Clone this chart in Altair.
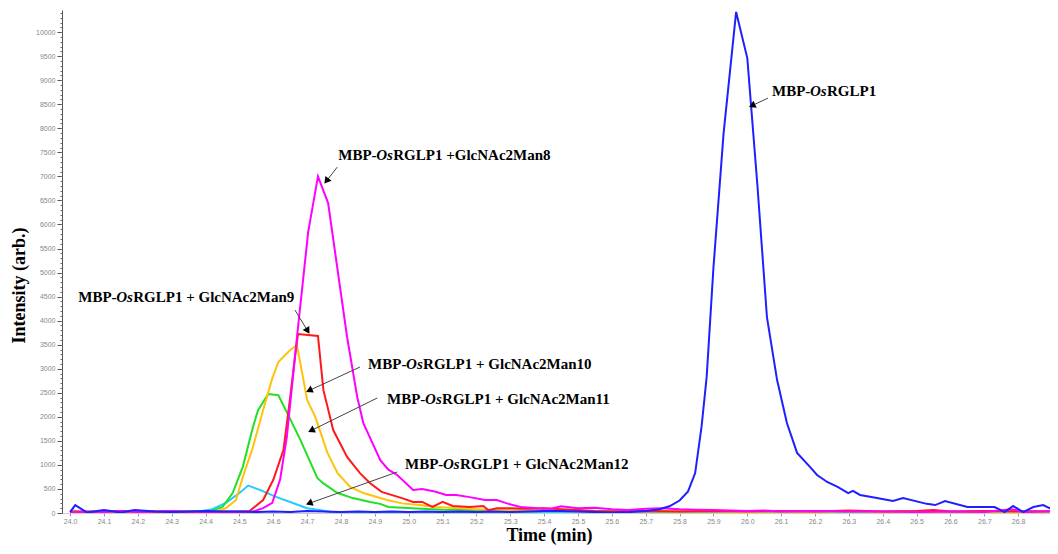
import altair as alt
import pandas as pd

# ---------------- data ----------------
series_names = [
    "MBP-OsRGLP1 + GlcNAc2Man12",
    "MBP-OsRGLP1 + GlcNAc2Man11",
    "MBP-OsRGLP1 + GlcNAc2Man10",
    "MBP-OsRGLP1 + GlcNAc2Man9",
    "MBP-OsRGLP1 + GlcNAc2Man8",
    "MBP-OsRGLP1",
]
series_colors = ["#22ccff", "#22e022", "#ffc20a", "#ff1a1a", "#ff00ff", "#1f1fff"]

cyan_t = [24.00, 24.05, 24.10, 24.15, 24.20, 24.25, 24.30, 24.35, 24.38, 24.42, 24.46, 24.50,
          24.526, 24.56, 24.61, 24.65, 24.70, 24.74, 24.77, 24.85, 24.95, 25.05, 25.15, 25.25,
          25.35, 25.45, 25.55, 25.65, 25.75, 25.85, 25.95, 26.05, 26.15, 26.25, 26.35, 26.45,
          26.55, 26.65, 26.75, 26.85, 26.92]
cyan_v = [10, 20, 10, 20, 10, 20, 10, 20, 30, 80, 210, 415,
          570, 480, 330, 230, 100, 60, 20, 20, 10, 20, 10, 20,
          10, 20, 30, 10, 20, 10, 20, 10, 20, 10, 20, 10,
          20, 10, 20, 10, 20]

green_t = [24.00, 24.05, 24.10, 24.15, 24.20, 24.25, 24.30, 24.35, 24.40, 24.42, 24.45, 24.48,
           24.51, 24.54, 24.555, 24.585, 24.615, 24.644, 24.68, 24.73, 24.747, 24.79, 24.835,
           24.886, 24.916, 24.94, 25.01, 25.10, 25.20, 25.30, 25.40, 25.50, 25.60, 25.70, 25.80,
           25.90, 26.00, 26.10, 26.20, 26.30, 26.40, 26.50, 26.60, 26.70, 26.80, 26.92]
green_v = [50, 30, 40, 30, 40, 30, 40, 30, 40, 50, 125, 415,
           960, 1790, 2140, 2475, 2450, 2040, 1520, 730, 620, 415, 310,
           230, 190, 125, 100, 70, 60, 50, 50, 40, 40, 40, 30,
           40, 30, 40, 30, 40, 30, 40, 30, 30, 40, 30]

yellow_t = [24.00, 24.05, 24.10, 24.15, 24.20, 24.25, 24.30, 24.35, 24.40, 24.43, 24.46, 24.49,
            24.51, 24.54, 24.57, 24.597, 24.615, 24.65, 24.67, 24.70, 24.724, 24.76, 24.79,
            24.827, 24.866, 24.886, 24.936, 24.98, 25.03, 25.08, 25.15, 25.20, 25.25, 25.30,
            25.40, 25.50, 25.60, 25.70, 25.80, 25.90, 26.00, 26.10, 26.20, 26.30, 26.40, 26.50,
            26.60, 26.70, 26.80, 26.92]
yellow_v = [40, 30, 20, 30, 20, 30, 20, 30, 20, 20, 100, 270,
            750, 1370, 2140, 2800, 3140, 3390, 3490, 2350, 2000, 1250, 830,
            540, 415, 375, 270, 200, 165, 125, 100, 80, 60, 50,
            40, 40, 30, 30, 30, 30, 20, 30, 20, 40, 20, 30,
            20, 30, 20, 30]

red_t = [24.00, 24.05, 24.10, 24.15, 24.20, 24.25, 24.30, 24.35, 24.40, 24.45, 24.50, 24.53,
         24.57, 24.60, 24.63, 24.65, 24.665, 24.673, 24.732, 24.748, 24.777, 24.818, 24.856,
         24.886, 24.92, 24.98, 25.013, 25.04, 25.07, 25.10, 25.13, 25.18, 25.22, 25.235, 25.26,
         25.30, 25.35, 25.40, 25.45, 25.50, 25.55, 25.60, 25.70, 25.80, 25.90, 26.00, 26.10,
         26.20, 26.30, 26.40, 26.50, 26.55, 26.60, 26.70, 26.80, 26.92]
red_v = [30, 20, 30, 40, 20, 30, 20, 30, 20, 30, 30, 40,
         270, 690, 1310, 2410, 3300, 3720, 3680, 2560, 1725, 1165, 830,
         620, 440, 310, 230, 230, 125, 230, 145, 125, 145, 60, 100,
         100, 90, 100, 80, 60, 40, 30, 40, 30, 40, 30, 40,
         30, 50, 30, 40, 60, 30, 40, 30, 40]

magenta_t = [24.00, 24.05, 24.10, 24.15, 24.20, 24.25, 24.30, 24.35, 24.40, 24.45, 24.50, 24.54,
             24.57, 24.597, 24.62, 24.64, 24.67, 24.703, 24.732, 24.762, 24.818, 24.848, 24.866,
             24.89, 24.916, 24.94, 24.966, 25.013, 25.04, 25.08, 25.11, 25.14, 25.18, 25.225,
             25.26, 25.29, 25.33, 25.38, 25.42, 25.45, 25.50, 25.55, 25.60, 25.65, 25.70, 25.75,
             25.80, 25.85, 25.90, 25.95, 26.00, 26.05, 26.10, 26.20, 26.30, 26.40, 26.50, 26.60,
             26.70, 26.78, 26.82, 26.92]
magenta_v = [20, 30, 20, 40, 20, 30, 40, 20, 30, 20, 20, 30,
             100, 210, 690, 1580, 3660, 5840, 7000, 6445, 3660, 2410, 1870,
             1500, 1100, 900, 790, 480, 500, 440, 375, 375, 330, 270,
             270, 200, 125, 100, 90, 140, 100, 110, 80, 60, 90, 100,
             80, 70, 60, 50, 40, 50, 30, 40, 30, 30, 20, 30,
             20, 80, 20, 40]

blue_t = [24.00, 24.015, 24.05, 24.10, 24.15, 24.19, 24.25, 24.30, 24.35, 24.40, 24.45, 24.50,
          24.55, 24.60, 24.65, 24.70, 24.75, 24.80, 24.85, 24.90, 24.95, 25.00, 25.05, 25.10,
          25.15, 25.20, 25.25, 25.30, 25.35, 25.40, 25.45, 25.50, 25.55, 25.60, 25.65, 25.70,
          25.74, 25.77, 25.80, 25.825, 25.846, 25.865, 25.88, 25.90, 25.93, 25.967, 26.00,
          26.03, 26.058, 26.088, 26.117, 26.147, 26.185, 26.206, 26.236, 26.268, 26.298, 26.312,
          26.333, 26.383, 26.43, 26.46, 26.53, 26.555, 26.584, 26.65, 26.73, 26.76, 26.785,
          26.815, 26.845, 26.874, 26.915]
blue_v = [20, 165, 10, 60, 10, 60, 30, 20, 30, 40, 30, 30,
          20, 30, 20, 40, 30, 20, 30, 20, 30, 20, 30, 20,
          30, 20, 30, 20, 30, 40, 40, 30, 20, 10, 20, 40,
          80, 140, 260, 450, 830, 1800, 2830, 5100, 7900, 10420, 9460,
          6800, 4075, 2765, 1870, 1250, 960, 790, 645, 540, 415, 460,
          375, 310, 250, 310, 190, 165, 250, 125, 125, 20, 145,
          20, 125, 165, 20]

all_series = [(cyan_t, cyan_v), (green_t, green_v), (yellow_t, yellow_v),
              (red_t, red_v), (magenta_t, magenta_v), (blue_t, blue_v)]

x_tick_labels = [24.0, 24.1, 24.2, 24.3, 24.4, 24.5, 24.6, 24.7, 24.8, 24.9,
                 25.0, 25.1, 25.2, 25.3, 25.4, 25.5, 25.6, 25.7, 25.8, 25.9,
                 26.0, 26.1, 26.2, 26.3, 26.4, 26.5, 26.6, 26.7, 26.8]
y_tick_labels = [0, 500, 1000, 1500, 2000, 2500, 3000, 3500, 4000, 4500, 5000,
                 5500, 6000, 6500, 7000, 7500, 8000, 8500, 9000, 9500, 10000]

# annotations: text split into plain / italic / plain parts
ann_x = [24.792, 26.073, 24.024, 24.880, 24.936, 24.989]
ann_y = [7443, 8773, 4490, 3098, 2370, 1019]
ann_pre = ["MBP-"] * 6
ann_it = ["Os"] * 6
ann_post = ["RGLP1 +GlcNAc2Man8", "RGLP1", "RGLP1 + GlcNAc2Man9",
            "RGLP1 + GlcNAc2Man10", "RGLP1 + GlcNAc2Man11", "RGLP1 + GlcNAc2Man12"]

arrow_x0 = [24.789, 26.061, 24.664, 24.856, 24.907, 24.966]
arrow_y0 = [7193, 8628, 4220, 3035, 2391, 852]
arrow_x1 = [24.759, 26.017, 24.700, 24.709, 24.715, 24.709]
arrow_y1 = [6923, 8482, 3805, 2557, 1726, 208]
arrow_angle = [218, 245, 149, 245, 244, 250]

# ---------------- build tables ----------------
frames = []
for name, (ts, vs) in zip(series_names, all_series):
    assert len(ts) == len(vs), name
    frames.append(pd.DataFrame({"time": ts, "intensity": vs, "series": name}))
df = pd.concat(frames, ignore_index=True)

ann = pd.DataFrame({"time": ann_x, "intensity": ann_y, "pre": ann_pre,
                    "it": ann_it, "post": ann_post})
arr = pd.DataFrame({"time": arrow_x0, "intensity": arrow_y0,
                    "time2": arrow_x1, "intensity2": arrow_y1})
heads = pd.DataFrame({"time": arrow_x1, "intensity": arrow_y1, "angle": arrow_angle})

X_DOMAIN = [23.976, 26.894]
Y_DOMAIN = [0, 10460]
xs = alt.Scale(domain=X_DOMAIN, nice=False, zero=False)
ys = alt.Scale(domain=Y_DOMAIN, nice=False)

x_axis = alt.Axis(
    values=x_tick_labels, format=".1f", title="Time (min)", grid=False,
    labelFont="Liberation Sans", labelFontSize=7, labelColor="#888888",
    labelPadding=1, tickSize=3, tickColor="#999999", domainColor="#cccccc",
    titleFont="Liberation Serif", titleFontSize=18, titleFontWeight="bold",
    titleColor="#000000", titleX=487, titleY=27, titleAlign="center",
    titleBaseline="alphabetic",
)


def x_enc():
    return alt.X("time:Q", scale=xs, axis=x_axis, title="Time (min)")


lines = alt.Chart(df).mark_line(strokeWidth=2, clip=True).encode(
    x=x_enc(),
    y=alt.Y(
        "intensity:Q", scale=ys,
        axis=alt.Axis(
            values=y_tick_labels, format="d", title="Intensity (arb.)", grid=False,
            labelFont="Liberation Sans", labelFontSize=7, labelColor="#888888",
            labelPadding=2, tickSize=5, tickColor="#555555", domainColor="#555555",
            titleFont="Liberation Serif", titleFontSize=18, titleFontWeight="bold",
            titleColor="#000000", titleX=-43, titleY=275, titleAngle=270,
            titleAlign="center", titleBaseline="middle", orient="left",
        ),
    ),
    color=alt.Color("series:N", scale=alt.Scale(domain=series_names, range=series_colors),
                    legend=None),
)

minor = alt.Chart(df).mark_line(strokeOpacity=0).encode(
    x=x_enc(),
    y=alt.Y(
        "intensity:Q", scale=ys,
        axis=alt.Axis(
            values=list(range(0, 10401, 100)), labels=False, domain=False, grid=False,
            tickSize=2, tickColor="#666666", title="", orient="left",
        ),
    ),
    detail="series:N",
)

base = alt.layer(lines, minor).resolve_axis(y="independent")

text_style = dict(font="Liberation Serif", fontSize=15, fontWeight="bold",
                  align="left", baseline="middle", color="#000000")
t_pre = alt.Chart(ann).mark_text(**text_style).encode(
    x=x_enc(),
    y=alt.Y("intensity:Q", scale=ys, axis=None),
    text="pre:N",
)
t_it = alt.Chart(ann).mark_text(dx=38, fontStyle="italic", **text_style).encode(
    x=x_enc(),
    y=alt.Y("intensity:Q", scale=ys, axis=None),
    text="it:N",
)
t_post = alt.Chart(ann).mark_text(dx=55, **text_style).encode(
    x=x_enc(),
    y=alt.Y("intensity:Q", scale=ys, axis=None),
    text="post:N",
)

rules = alt.Chart(arr).mark_rule(color="#444444", strokeWidth=1).encode(
    x=x_enc(),
    y=alt.Y("intensity:Q", scale=ys, axis=None),
    x2="time2:Q",
    y2="intensity2:Q",
)
arrowheads = alt.Chart(heads).mark_point(shape="triangle", filled=True, size=60,
                                         color="#000000", opacity=1).encode(
    x=x_enc(),
    y=alt.Y("intensity:Q", scale=ys, axis=None),
    angle=alt.Angle("angle:Q", scale=None),
)

chart = alt.layer(base, rules, arrowheads, t_pre, t_it, t_post).properties(
    width=988, height=503,
    autosize=alt.AutoSizeParams(type="none"),
    padding={"left": 54, "top": 2, "right": 0, "bottom": 33},
    background="#ffffff",
).configure_view(stroke="transparent")

chart.save("out.html", embed_options={"renderer": "svg", "actions": False})
